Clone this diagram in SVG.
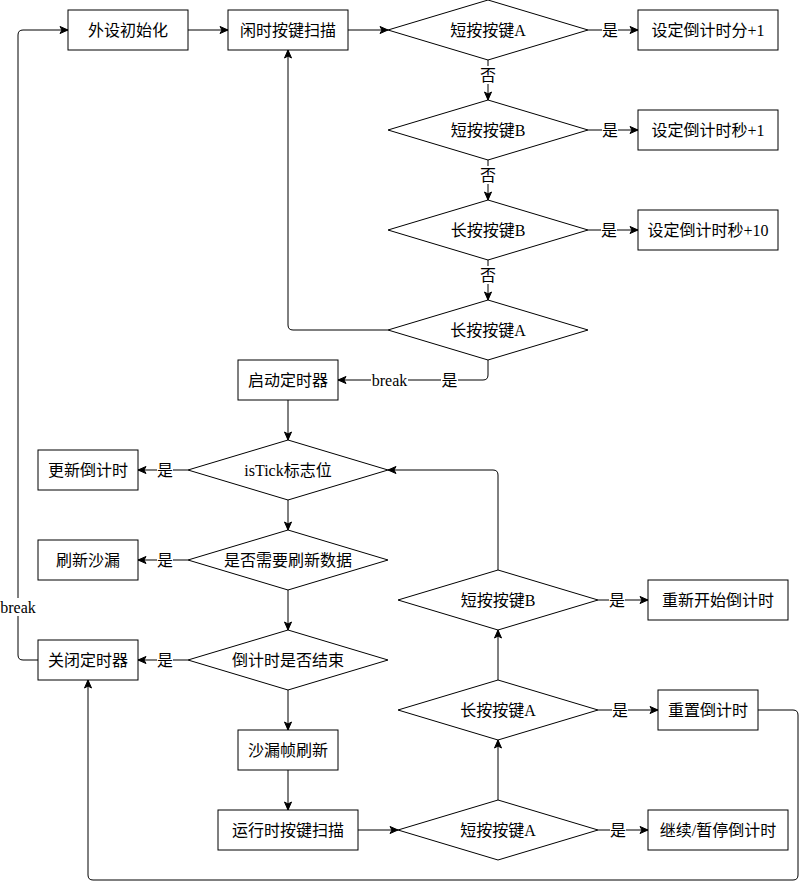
<svg xmlns="http://www.w3.org/2000/svg" width="807" height="889" viewBox="0 0 807 889">
<style>
.n{fill:#fff;stroke:#000;stroke-width:1}
.t{font-family:"Liberation Serif","Noto Sans CJK SC",serif;font-size:16px;fill:#000;text-anchor:middle;dominant-baseline:central}
.c{fill:none;stroke:#000;stroke-width:1}
.lb{fill:#fff;stroke:none}
</style>
<defs>
<marker id="a" markerUnits="userSpaceOnUse" markerWidth="10" markerHeight="10" viewBox="0 0 10 10" refX="9" refY="5" orient="auto">
<path d="M1,1.5 L9,5 L1,8.5 L3,5 Z" fill="#000" stroke="#000" stroke-width="1"/>
</marker>
</defs>
<rect width="807" height="889" fill="#fff"/>
<g id="connectors">
<path class="c" d="M188,30 L228,30" marker-end="url(#a)"/>
<path class="c" d="M348,30 L388,30" marker-end="url(#a)"/>
<path class="c" d="M588,30 L638,30" marker-end="url(#a)"/>
<path class="c" d="M488,60 L488,100" marker-end="url(#a)"/>
<path class="c" d="M588,130 L638,130" marker-end="url(#a)"/>
<path class="c" d="M488,160 L488,200" marker-end="url(#a)"/>
<path class="c" d="M588,230 L638,230" marker-end="url(#a)"/>
<path class="c" d="M488,260 L488,300" marker-end="url(#a)"/>
<path class="c" d="M388,330 L293,330 Q288,330 288,325 L288,50" marker-end="url(#a)"/>
<path class="c" d="M488,360 L488,375 Q488,380 483,380 L338,380" marker-end="url(#a)"/>
<path class="c" d="M288,400 L288,440" marker-end="url(#a)"/>
<path class="c" d="M188,470 L138,470" marker-end="url(#a)"/>
<path class="c" d="M288,500 L288,530" marker-end="url(#a)"/>
<path class="c" d="M188,560 L138,560" marker-end="url(#a)"/>
<path class="c" d="M288,590 L288,630" marker-end="url(#a)"/>
<path class="c" d="M188,660 L138,660" marker-end="url(#a)"/>
<path class="c" d="M38,660 L23,660 Q18,660 18,655 L18,35 Q18,30 23,30 L68,30" marker-end="url(#a)"/>
<path class="c" d="M288,690 L288,730" marker-end="url(#a)"/>
<path class="c" d="M288,770 L288,810" marker-end="url(#a)"/>
<path class="c" d="M358,830 L398,830" marker-end="url(#a)"/>
<path class="c" d="M598,830 L648,830" marker-end="url(#a)"/>
<path class="c" d="M498,800 L498,740" marker-end="url(#a)"/>
<path class="c" d="M598,710 L658,710" marker-end="url(#a)"/>
<path class="c" d="M498,680 L498,630" marker-end="url(#a)"/>
<path class="c" d="M598,600 L648,600" marker-end="url(#a)"/>
<path class="c" d="M498,570 L498,475 Q498,470 493,470 L388,470" marker-end="url(#a)"/>
<path class="c" d="M758,710 L793,710 Q798,710 798,715 L798,875 Q798,880 793,880 L93,880 Q88,880 88,875 L88,680" marker-end="url(#a)"/>
<g id="labels">
<rect class="lb" x="602" y="21" width="16" height="18"/><text class="t" x="610" y="30">是</text>
<rect class="lb" x="480" y="66" width="16" height="18"/><text class="t" x="488" y="75">否</text>
<rect class="lb" x="602" y="121" width="16" height="18"/><text class="t" x="610" y="130">是</text>
<rect class="lb" x="480" y="166" width="16" height="18"/><text class="t" x="488" y="175">否</text>
<rect class="lb" x="601" y="221" width="16" height="18"/><text class="t" x="609" y="230">是</text>
<rect class="lb" x="480" y="266" width="16" height="18"/><text class="t" x="488" y="275">否</text>
<rect class="lb" x="441" y="371" width="17" height="18"/><text class="t" x="449.5" y="380">是</text>
<rect class="lb" x="371" y="371" width="37" height="18"/><text class="t" x="389.5" y="380">break</text>
<rect class="lb" x="157" y="461" width="16" height="18"/><text class="t" x="165" y="470">是</text>
<rect class="lb" x="157" y="551" width="16" height="18"/><text class="t" x="165" y="560">是</text>
<rect class="lb" x="157" y="651" width="16" height="18"/><text class="t" x="165" y="660">是</text>
<rect class="lb" x="0" y="598" width="36" height="18"/><text class="t" x="18" y="607">break</text>
<rect class="lb" x="609" y="591" width="16" height="18"/><text class="t" x="617" y="600">是</text>
<rect class="lb" x="612" y="701" width="16" height="18"/><text class="t" x="620" y="710">是</text>
<rect class="lb" x="610" y="821" width="16" height="18"/><text class="t" x="618" y="830">是</text>
</g>
</g>
<g id="n1"><rect class="n" x="68" y="10" width="120" height="40"/><text class="t" x="128" y="30">外设初始化</text></g>
<g id="n2"><rect class="n" x="228" y="10" width="120" height="40"/><text class="t" x="288" y="30">闲时按键扫描</text></g>
<g id="d1"><polygon class="n" points="488,0 588,30 488,60 388,30"/><text class="t" x="488" y="30">短按按键A</text></g>
<g id="n3"><rect class="n" x="638" y="10" width="140" height="40"/><text class="t" x="708" y="30">设定倒计时分+1</text></g>
<g id="d2"><polygon class="n" points="488,100 588,130 488,160 388,130"/><text class="t" x="488" y="130">短按按键B</text></g>
<g id="n4"><rect class="n" x="638" y="110" width="140" height="40"/><text class="t" x="708" y="130">设定倒计时秒+1</text></g>
<g id="d3"><polygon class="n" points="488,200 588,230 488,260 388,230"/><text class="t" x="488" y="230">长按按键B</text></g>
<g id="n5"><rect class="n" x="638" y="210" width="140" height="40"/><text class="t" x="708" y="230">设定倒计时秒+10</text></g>
<g id="d4"><polygon class="n" points="488,300 588,330 488,360 388,330"/><text class="t" x="488" y="330">长按按键A</text></g>
<g id="n6"><rect class="n" x="238" y="360" width="100" height="40"/><text class="t" x="288" y="380">启动定时器</text></g>
<g id="d5"><polygon class="n" points="288,440 388,470 288,500 188,470"/><text class="t" x="288" y="470">isTick标志位</text></g>
<g id="n7"><rect class="n" x="38" y="450" width="100" height="40"/><text class="t" x="88" y="470">更新倒计时</text></g>
<g id="d6"><polygon class="n" points="288,530 388,560 288,590 188,560"/><text class="t" x="288" y="560">是否需要刷新数据</text></g>
<g id="n8"><rect class="n" x="38" y="540" width="100" height="40"/><text class="t" x="88" y="560">刷新沙漏</text></g>
<g id="d7"><polygon class="n" points="288,630 388,660 288,690 188,660"/><text class="t" x="288" y="660">倒计时是否结束</text></g>
<g id="n9"><rect class="n" x="38" y="640" width="100" height="40"/><text class="t" x="88" y="660">关闭定时器</text></g>
<g id="n10"><rect class="n" x="238" y="730" width="100" height="40"/><text class="t" x="288" y="750">沙漏帧刷新</text></g>
<g id="n11"><rect class="n" x="218" y="810" width="140" height="40"/><text class="t" x="288" y="830">运行时按键扫描</text></g>
<g id="d8"><polygon class="n" points="498,800 598,830 498,860 398,830"/><text class="t" x="498" y="830">短按按键A</text></g>
<g id="n12"><rect class="n" x="648" y="810" width="140" height="40"/><text class="t" x="718" y="830">继续/暂停倒计时</text></g>
<g id="d9"><polygon class="n" points="498,680 598,710 498,740 398,710"/><text class="t" x="498" y="710">长按按键A</text></g>
<g id="n13"><rect class="n" x="658" y="690" width="100" height="40"/><text class="t" x="708" y="710">重置倒计时</text></g>
<g id="d10"><polygon class="n" points="498,570 598,600 498,630 398,600"/><text class="t" x="498" y="600">短按按键B</text></g>
<g id="n14"><rect class="n" x="648" y="580" width="140" height="40"/><text class="t" x="718" y="600">重新开始倒计时</text></g>
</svg>
